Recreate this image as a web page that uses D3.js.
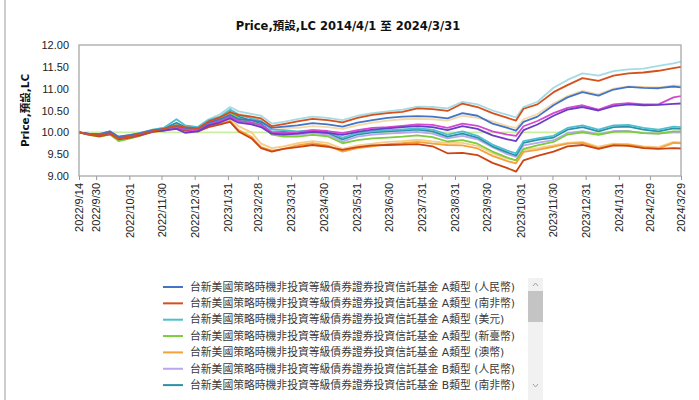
<!DOCTYPE html>
<meta charset="utf-8">
<head>
<style>
  body { margin: 0; background: #fff; }
  svg { font-family: "DejaVu Sans", "Noto Sans CJK TC", sans-serif; }
  .tick text { fill: #222; font-size: 11px; }
  .legend text { fill: #3a3a3a; font-size: 10.8px; }
</style>
</head>
<body>
<div id="chart"></div>
<script src="https://cdn.jsdelivr.net/npm/d3@7"></script>
<script>

var dates = ["2022-09-14","2022-09-23","2022-10-03","2022-10-13","2022-10-21","2022-11-01","2022-11-10","2022-11-22",
  "2022-12-02","2022-12-14","2022-12-22","2023-01-03","2023-01-13","2023-01-24","2023-02-02","2023-02-10",
  "2023-02-22","2023-03-03","2023-03-13","2023-03-24","2023-04-06","2023-04-20","2023-05-04","2023-05-18",
  "2023-06-01","2023-06-15","2023-06-29","2023-07-13","2023-07-27","2023-08-10","2023-08-24","2023-09-07",
  "2023-09-21","2023-10-05","2023-10-19","2023-10-27","2023-11-03","2023-11-16","2023-12-01","2023-12-14",
  "2023-12-28","2024-01-12","2024-01-26","2024-02-09","2024-02-23","2024-03-08","2024-03-22","2024-03-29"];

var tickLabels = ["2022/9/14","2022/9/30","2022/10/31","2022/11/30","2022/12/31","2023/1/31","2023/2/28",
  "2023/3/31","2023/4/30","2023/5/31","2023/6/30","2023/7/31","2023/8/31","2023/9/30","2023/10/31",
  "2023/11/30","2023/12/31","2024/1/31","2024/2/29","2024/3/29"];

var yTicks = [9, 9.5, 10, 10.5, 11, 11.5, 12];

var fundName = "台新美國策略時機非投資等級債券證券投資信託基金";

var seriesNames = [
  "A類型 (人民幣)", "A類型 (南非幣)", "A類型 (美元)", "A類型 (新臺幣)", "A類型 (澳幣)",
  "B類型 (人民幣)", "B類型 (南非幣)", "B類型 (美元)", "B類型 (新臺幣)", "B類型 (澳幣)",
  "NA類型 (人民幣)", "NA類型 (南非幣)", "NA類型 (美元)", "NA類型 (澳幣)"
];

var colors = ["#4474c8", "#d6501c", "#4fbfd0", "#7ccc3c", "#f2a33a", "#b9a6ee", "#2e90a8",
  "#d548d0", "#c8f0a0", "#6a3cc8", "#f3d9a6", "#a6dbe4", "#f6cd8a", "#cc4412"];

var aCny = [10.00,9.97,9.96,10.02,9.90,9.94,9.98,10.05,10.08,10.14,10.10,10.08,10.22,10.30,10.40,10.30,
  10.28,10.24,10.10,10.13,10.16,10.21,10.18,10.13,10.22,10.28,10.33,10.36,10.37,10.36,10.32,10.44,
  10.38,10.20,10.10,10.04,10.24,10.36,10.62,10.80,10.92,10.84,10.98,11.04,11.02,11.01,11.05,11.03];
var aZar = [10.00,9.96,9.93,9.98,9.86,9.91,9.96,10.03,10.08,10.16,10.12,10.09,10.25,10.35,10.46,10.40,
  10.36,10.32,10.14,10.19,10.25,10.31,10.28,10.23,10.33,10.40,10.44,10.47,10.55,10.53,10.49,10.66,
  10.58,10.44,10.33,10.27,10.54,10.64,10.92,11.08,11.24,11.18,11.30,11.35,11.37,11.41,11.47,11.50];
var aUsd = [10.00,9.97,9.95,10.02,9.88,9.93,9.98,10.06,10.10,10.30,10.16,10.12,10.28,10.36,10.52,10.40,
  10.32,10.26,10.06,10.05,10.02,10.05,10.02,9.88,9.98,10.03,10.05,10.07,10.09,10.06,9.95,10.02,
  9.92,9.72,9.58,9.52,9.80,9.86,9.92,10.10,10.16,10.06,10.16,10.17,10.10,10.06,10.13,10.12];
var aTwd = [10.00,9.94,9.90,9.95,9.80,9.86,9.92,10.02,10.06,10.16,10.10,10.08,10.24,10.32,10.45,10.32,
  10.24,10.16,9.95,9.90,9.90,9.94,9.91,9.75,9.82,9.86,9.88,9.90,9.93,9.89,9.79,9.82,
  9.74,9.56,9.42,9.36,9.62,9.70,9.78,9.95,10.00,9.94,10.01,10.02,9.98,9.97,10.02,10.02];
var aAud = [10.00,9.95,9.92,9.97,9.84,9.89,9.94,10.02,10.05,10.12,10.06,10.04,10.14,10.20,10.26,10.05,
  9.90,9.66,9.58,9.62,9.70,9.75,9.70,9.56,9.64,9.68,9.73,9.75,9.78,9.74,9.71,9.70,
  9.63,9.46,9.34,9.29,9.55,9.60,9.67,9.74,9.76,9.64,9.72,9.72,9.66,9.63,9.76,9.75];
var bCny = [10.00,9.97,9.96,10.02,9.90,9.93,9.97,10.04,10.07,10.13,10.09,10.06,10.20,10.27,10.36,10.26,
  10.20,10.12,9.96,9.94,9.94,9.98,9.95,9.79,9.90,9.95,9.97,9.99,10.01,9.97,9.86,9.92,
  9.84,9.66,9.50,9.44,9.70,9.76,9.82,9.98,10.03,9.96,10.03,10.03,9.98,9.97,10.00,10.00];
var bZar = [10.00,9.96,9.94,10.00,9.87,9.92,9.96,10.04,10.08,10.22,10.12,10.09,10.25,10.33,10.47,10.36,
  10.27,10.20,10.00,10.01,9.99,10.02,9.99,9.84,9.95,10.00,10.02,10.04,10.06,10.02,9.90,9.97,
  9.88,9.68,9.54,9.47,9.76,9.83,9.88,10.06,10.12,10.02,10.12,10.13,10.06,10.02,10.09,10.08];
var bUsd = [10.00,9.96,9.93,9.98,9.86,9.91,9.95,10.03,10.06,10.12,10.07,10.04,10.18,10.26,10.36,10.26,
  10.22,10.17,10.00,9.98,10.00,10.05,10.03,9.98,10.05,10.10,10.12,10.15,10.18,10.17,10.10,10.20,
  10.15,10.02,9.95,9.92,10.14,10.26,10.44,10.56,10.62,10.52,10.64,10.67,10.64,10.64,10.80,10.83];
var bTwd = [10.00,10.00,10.00,10.00,10.00,10.00,10.00,10.00,10.00,10.00,10.00,10.00,10.00,10.00,10.00,10.00,
  10.00,10.00,10.00,10.00,10.00,10.00,10.00,10.00,10.00,10.00,10.00,10.00,10.00,10.00,10.00,10.00,
  10.00,10.00,10.00,10.00,10.00,10.00,10.00,10.00,10.00,10.00,10.00,10.00,10.00,10.00,10.00,10.00];
var bAud = [10.00,9.96,9.94,9.99,9.87,9.92,9.95,10.02,10.04,10.08,9.99,10.02,10.16,10.23,10.32,10.22,
  10.18,10.12,9.97,9.95,9.97,10.01,9.99,9.94,10.01,10.06,10.09,10.12,10.14,10.12,10.05,10.14,
  10.08,9.93,9.84,9.80,10.05,10.18,10.38,10.52,10.58,10.50,10.60,10.64,10.62,10.63,10.65,10.66];
var naCny = [10.00,9.97,9.95,10.01,9.89,9.94,9.99,10.06,10.10,10.17,10.13,10.11,10.28,10.38,10.52,10.42,
  10.36,10.30,10.12,10.10,10.10,10.14,10.12,10.08,10.16,10.22,10.27,10.30,10.31,10.30,10.27,10.38,
  10.33,10.25,10.14,10.10,10.30,10.42,10.66,10.83,10.95,10.87,11.00,11.05,11.04,11.03,11.07,11.07];
var naZar = [10.00,9.97,9.95,10.00,9.88,9.93,9.98,10.05,10.10,10.20,10.14,10.12,10.30,10.42,10.58,10.48,
  10.42,10.38,10.20,10.24,10.30,10.36,10.33,10.28,10.38,10.44,10.48,10.52,10.59,10.58,10.55,10.70,
  10.64,10.50,10.40,10.34,10.58,10.70,11.02,11.20,11.35,11.30,11.40,11.44,11.46,11.52,11.58,11.62];
var naUsd = [10.00,9.96,9.93,9.98,9.85,9.90,9.95,10.03,10.06,10.14,10.08,10.06,10.17,10.24,10.32,10.14,
  10.00,9.74,9.64,9.68,9.75,9.80,9.76,9.62,9.70,9.74,9.78,9.80,9.83,9.79,9.76,9.76,
  9.69,9.52,9.40,9.36,9.60,9.64,9.70,9.76,9.78,9.67,9.74,9.73,9.68,9.66,9.78,9.77];
var naAud = [10.00,9.95,9.91,9.96,9.84,9.88,9.93,10.01,10.04,10.10,10.04,10.02,10.12,10.18,10.24,10.02,
  9.86,9.64,9.56,9.62,9.66,9.71,9.67,9.60,9.66,9.70,9.71,9.72,9.73,9.68,9.52,9.53,
  9.48,9.30,9.18,9.10,9.36,9.46,9.56,9.68,9.71,9.62,9.70,9.69,9.64,9.62,9.64,9.63];

var seriesValues = [aCny, aZar, aUsd, aTwd, aAud, bCny, bZar, bUsd, bTwd, bAud, naCny, naZar, naUsd, naAud];

// draw order: light lines first so the darker ones sit on top
var drawOrder = [8, 10, 11, 12, 5, 6, 2, 3, 4, 13, 7, 9, 0, 1];

var width = 699, height = 400;
var plot = { left: 79, right: 681, top: 45, bottom: 176 };
var legendRows = 7; // rows that fit in the legend box before it scrolls

var parseDate = d3.timeParse("%Y-%m-%d");
var parseTick = d3.timeParse("%Y/%m/%d");

var svg = d3.select("#chart").append("svg")
  .attr("width", width)
  .attr("height", height);

// panel edge on the left
svg.append("rect")
  .attr("x", 4).attr("y", 0)
  .attr("width", 2).attr("height", height)
  .attr("fill", "#cccccc");

var x = d3.scaleTime()
  .domain([parseDate(dates[0]), parseDate(dates[dates.length - 1])])
  .range([plot.left, plot.right]);

var y = d3.scaleLinear()
  .domain([9, 12])
  .range([plot.bottom, plot.top]);

svg.append("text")
  .attr("x", 348).attr("y", 30)
  .attr("text-anchor", "middle")
  .style("font-size", "11.5px").style("font-weight", "bold").style("fill", "#111")
  .text("Price,預設,LC 2014/4/1 至 2024/3/31");

svg.append("text")
  .attr("transform", "translate(29," + ((plot.top + plot.bottom) / 2) + ") rotate(-90)")
  .attr("text-anchor", "middle")
  .style("font-size", "10.5px").style("font-weight", "bold").style("fill", "#111")
  .text("Price,預設,LC");

var yAxis = svg.append("g")
  .attr("transform", "translate(" + (plot.left - 2) + ",0)")
  .call(d3.axisLeft(y).tickValues(yTicks).tickFormat(d3.format(".2f")).tickSize(0).tickPadding(8));
yAxis.select(".domain").remove();

var xAxis = svg.append("g")
  .attr("transform", "translate(0," + plot.bottom + ")")
  .call(d3.axisBottom(x)
    .tickValues(tickLabels.map(function(t) { return parseTick(t); }))
    .tickFormat(d3.timeFormat("%Y/%-m/%-d"))
    .tickSizeInner(4).tickSizeOuter(0));
xAxis.select(".domain").remove();
xAxis.selectAll(".tick line").attr("stroke", "#999");
xAxis.selectAll(".tick text")
  .attr("transform", "rotate(-90)")
  .attr("x", -7).attr("y", 0).attr("dy", "0.35em")
  .style("text-anchor", "end");

svg.append("clipPath").attr("id", "plotclip")
  .append("rect")
  .attr("x", plot.left).attr("y", plot.top)
  .attr("width", plot.right - plot.left).attr("height", plot.bottom - plot.top);

var line = d3.line()
  .x(function(d) { return x(d.date); })
  .y(function(d) { return y(d.value); });

var lines = svg.append("g").attr("clip-path", "url(#plotclip)");
drawOrder.forEach(function(i) {
  var pts = dates.map(function(d, j) { return { date: parseDate(d), value: seriesValues[i][j] }; });
  lines.append("path")
    .datum(pts)
    .attr("fill", "none")
    .attr("stroke", colors[i])
    .attr("stroke-width", 1.8)
    .attr("stroke-linejoin", "round")
    .attr("d", line);
});

svg.append("rect")
  .attr("x", plot.left).attr("y", plot.top)
  .attr("width", plot.right - plot.left).attr("height", plot.bottom - plot.top)
  .attr("fill", "none").attr("stroke", "#a0a0a0").attr("stroke-width", 1.2);

// legend box: only the first rows are in view, the rest is behind the scrollbar
var legendTop = 278, legendBottom = 393;
var legend = svg.append("g").attr("class", "legend");
seriesNames.slice(0, legendRows).forEach(function(name, i) {
  var ly = 287 + i * 16.35;
  legend.append("line")
    .attr("x1", 163).attr("x2", 183)
    .attr("y1", ly).attr("y2", ly)
    .attr("stroke", colors[i]).attr("stroke-width", 2);
  legend.append("text")
    .attr("x", 190).attr("y", ly).attr("dy", "0.35em")
    .text(fundName + " " + name);
});

// scrollbar
svg.append("rect")
  .attr("x", 528).attr("y", legendTop)
  .attr("width", 15).attr("height", legendBottom - legendTop + 7)
  .attr("fill", "#f1f1f1");
svg.append("rect")
  .attr("x", 528).attr("y", 291)
  .attr("width", 15).attr("height", 31)
  .attr("fill", "#c4c4c4");
svg.append("path")
  .attr("d", "M533,286 L535.5,283 L538,286")
  .attr("fill", "none").attr("stroke", "#a3a3a3").attr("stroke-width", 1);
svg.append("path")
  .attr("d", "M533,384 L535.5,387 L538,384")
  .attr("fill", "none").attr("stroke", "#a3a3a3").attr("stroke-width", 1);

</script>
</body>
